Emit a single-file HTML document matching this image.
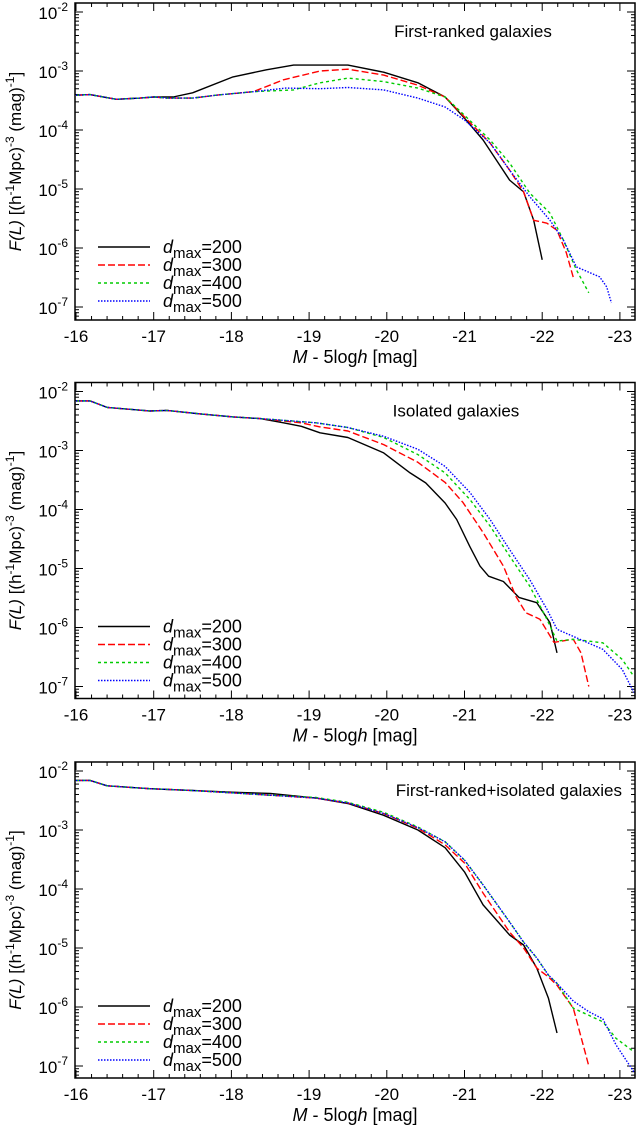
<!DOCTYPE html>
<html><head><meta charset="utf-8"><style>
html,body{margin:0;padding:0;background:#fff}
svg{display:block}
text{font-family:"Liberation Sans",sans-serif;fill:#000}
</style></head><body>
<svg id="fig" width="636" height="1134" viewBox="0 0 636 1134" xmlns="http://www.w3.org/2000/svg"></svg>
<script>
const xTicks=[-16,-17,-18,-19,-20,-21,-22,-23];
const yTickExps=[-2,-3,-4,-5,-6,-7];
const seriesNames=['200','300','400','500'];
const panelTitles=['First-ranked galaxies','Isolated galaxies','First-ranked+isolated galaxies'];
// panel 1 data (M, log10 F)
const p1Black=[[-16,-3.41],[-16.18,-3.40],[-16.52,-3.48],[-16.82,-3.46],[-17,-3.44],[-17.25,-3.44],[-17.5,-3.37],[-18.02,-3.1],[-18.45,-2.98],[-18.8,-2.9],[-19.09,-2.9],[-19.5,-2.9],[-19.96,-3.02],[-20.4,-3.2],[-20.75,-3.44],[-21,-3.8],[-21.24,-4.17],[-21.41,-4.51],[-21.58,-4.85],[-21.76,-5.05],[-21.89,-5.53],[-22,-6.2]];
const p1Red=[[-16,-3.41],[-16.18,-3.40],[-16.52,-3.48],[-16.82,-3.46],[-17,-3.44],[-17.17,-3.46],[-17.5,-3.46],[-17.8,-3.41],[-18.28,-3.35],[-18.67,-3.15],[-19.14,-3.0],[-19.5,-2.97],[-19.96,-3.07],[-20.4,-3.24],[-20.75,-3.44],[-21,-3.78],[-21.33,-4.22],[-21.58,-4.68],[-21.76,-5.05],[-21.89,-5.53],[-22.06,-5.58],[-22.19,-5.7],[-22.31,-6.08],[-22.4,-6.5]];
const p1Green=[[-16,-3.41],[-16.18,-3.40],[-16.52,-3.48],[-16.82,-3.46],[-17,-3.44],[-17.17,-3.46],[-17.5,-3.46],[-17.8,-3.41],[-18.28,-3.35],[-18.8,-3.32],[-19.14,-3.2],[-19.5,-3.12],[-19.96,-3.18],[-20.4,-3.29],[-20.75,-3.44],[-21,-3.75],[-21.33,-4.17],[-21.58,-4.56],[-21.84,-5.07],[-22.1,-5.41],[-22.27,-5.86],[-22.44,-6.37],[-22.6,-6.76]];
const p1Blue=[[-16,-3.41],[-16.18,-3.40],[-16.52,-3.48],[-16.82,-3.46],[-17,-3.44],[-17.17,-3.46],[-17.5,-3.46],[-17.8,-3.41],[-18.28,-3.35],[-18.7,-3.29],[-19.14,-3.3],[-19.5,-3.28],[-19.96,-3.32],[-20.4,-3.46],[-20.75,-3.61],[-21,-3.83],[-21.33,-4.22],[-21.58,-4.68],[-21.84,-5.13],[-22.1,-5.53],[-22.27,-5.86],[-22.44,-6.32],[-22.74,-6.49],[-22.83,-6.66],[-22.89,-6.93]];
// panel 2
const p2Black=[[-16,-2.16],[-16.18,-2.16],[-16.4,-2.27],[-16.95,-2.33],[-17.17,-2.32],[-17.6,-2.38],[-18.02,-2.43],[-18.37,-2.46],[-18.67,-2.53],[-18.9,-2.59],[-19.14,-2.70],[-19.5,-2.78],[-19.96,-3.04],[-20.3,-3.38],[-20.5,-3.55],[-20.75,-3.89],[-20.9,-4.17],[-21.07,-4.63],[-21.2,-4.96],[-21.31,-5.13],[-21.5,-5.22],[-21.7,-5.49],[-21.93,-5.58],[-22.1,-5.92],[-22.19,-6.43]];
const p2Red=[[-16,-2.16],[-16.18,-2.16],[-16.4,-2.27],[-16.95,-2.33],[-17.17,-2.32],[-17.6,-2.38],[-18.02,-2.43],[-18.37,-2.46],[-18.9,-2.53],[-19.14,-2.6],[-19.5,-2.67],[-19.96,-2.9],[-20.4,-3.2],[-20.75,-3.54],[-20.98,-3.88],[-21.24,-4.39],[-21.5,-4.96],[-21.66,-5.47],[-21.79,-5.75],[-21.97,-5.86],[-22.15,-6.25],[-22.4,-6.2],[-22.5,-6.43],[-22.6,-7.0]];
const p2Green=[[-16,-2.16],[-16.18,-2.16],[-16.4,-2.27],[-16.95,-2.33],[-17.17,-2.32],[-17.6,-2.38],[-18.02,-2.43],[-18.37,-2.46],[-19.09,-2.53],[-19.5,-2.61],[-19.96,-2.78],[-20.4,-3.07],[-20.75,-3.38],[-21.07,-3.83],[-21.33,-4.28],[-21.58,-4.79],[-21.84,-5.3],[-22.06,-5.86],[-22.19,-6.23],[-22.4,-6.2],[-22.78,-6.26],[-23.03,-6.54],[-23.18,-6.83]];
const p2Blue=[[-16,-2.16],[-16.18,-2.16],[-16.4,-2.27],[-16.95,-2.33],[-17.17,-2.32],[-17.6,-2.38],[-18.02,-2.43],[-18.37,-2.46],[-19.09,-2.53],[-19.5,-2.61],[-19.96,-2.76],[-20.4,-2.98],[-20.75,-3.27],[-21.07,-3.71],[-21.33,-4.17],[-21.58,-4.68],[-21.84,-5.19],[-22.06,-5.69],[-22.19,-6.03],[-22.4,-6.15],[-22.78,-6.37],[-23.03,-6.71],[-23.18,-7.1]];
// panel 3
const p3Black=[[-16,-2.16],[-16.18,-2.16],[-16.4,-2.25],[-16.95,-2.3],[-17.5,-2.33],[-18.0,-2.36],[-18.5,-2.38],[-19.09,-2.46],[-19.5,-2.55],[-19.96,-2.75],[-20.4,-3.0],[-20.75,-3.3],[-21,-3.71],[-21.24,-4.27],[-21.58,-4.78],[-21.76,-4.95],[-21.93,-5.34],[-22.08,-5.85],[-22.19,-6.44]];
const p3Red=[[-16,-2.16],[-16.18,-2.16],[-16.4,-2.25],[-16.95,-2.3],[-17.5,-2.33],[-18.0,-2.37],[-18.5,-2.41],[-19.09,-2.46],[-19.5,-2.54],[-19.96,-2.72],[-20.4,-2.97],[-20.75,-3.25],[-21,-3.56],[-21.24,-4.07],[-21.58,-4.73],[-21.76,-5.0],[-21.93,-5.34],[-22.08,-5.49],[-22.19,-5.63],[-22.4,-6.02],[-22.6,-7.0]];
const p3Green=[[-16,-2.16],[-16.18,-2.16],[-16.4,-2.25],[-16.95,-2.3],[-17.5,-2.33],[-18.0,-2.37],[-18.5,-2.41],[-19.09,-2.45],[-19.5,-2.53],[-19.96,-2.7],[-20.4,-2.95],[-20.75,-3.2],[-21,-3.51],[-21.24,-3.93],[-21.58,-4.56],[-21.76,-4.9],[-21.93,-5.17],[-22.08,-5.46],[-22.19,-5.6],[-22.4,-6.02],[-22.6,-6.14],[-22.78,-6.25],[-22.95,-6.53],[-23.18,-6.76]];
const p3Blue=[[-16,-2.16],[-16.18,-2.16],[-16.4,-2.25],[-16.95,-2.3],[-17.5,-2.33],[-18.0,-2.37],[-18.5,-2.41],[-19.09,-2.46],[-19.5,-2.54],[-19.96,-2.72],[-20.4,-2.96],[-20.75,-3.2],[-21,-3.51],[-21.24,-3.93],[-21.58,-4.56],[-21.76,-4.9],[-21.93,-5.17],[-22.08,-5.46],[-22.19,-5.6],[-22.4,-5.9],[-22.6,-6.08],[-22.78,-6.2],[-22.95,-6.64],[-23.18,-7.1]];
const panelData=[[p1Black,p1Red,p1Green,p1Blue],[p2Black,p2Red,p2Green,p2Blue],[p3Black,p3Red,p3Green,p3Blue]];

const NS='http://www.w3.org/2000/svg';
const svg=document.getElementById('fig');
const X0=76,PXM=77.7,BL=75,BR=635,DEC=59;
const styles=[{c:'#000',d:''},{c:'#f00',d:'7,3'},{c:'#0c0',d:'3,3'},{c:'#00f',d:'1.5,1.5'}];
function mk(tag,attrs,parent){const e=document.createElementNS(NS,tag);for(const k in attrs)e.setAttribute(k,attrs[k]);(parent||svg).appendChild(e);return e;}
function xs(m){return X0+PXM*(-m-16);}
const titleX=[473,456,622],titleAnchor=['middle','middle','end'];
for(let p=0;p<3;p++){
  const off=p*379.5;
  const top=3+off,bot=320+off-(p?1:0),y2=12+off;
  const ys=v=>y2+DEC*(-2-v);
  const g=mk('g',{});
  
  
  const cid='clip'+p;
  const cp=mk('clipPath',{id:cid},g);mk('rect',{x:BL,y:top,width:BR-BL,height:bot-top},cp);
  for(let m=-16;m>=-23.2;m-=0.2){
    const mm=Math.round(m*10)/10;const x=xs(mm);if(x>BR)break;
    const major=Math.abs(mm-Math.round(mm))<1e-6;const L=major?8:4;
    mk('line',{x1:x,y1:bot,x2:x,y2:bot-L,stroke:'#000','stroke-width':1},g);
    mk('line',{x1:x,y1:top,x2:x,y2:top+L,stroke:'#000','stroke-width':1},g);
  }
  xTicks.forEach(t=>{const tx=mk('text',{x:xs(t),y:bot+22,'text-anchor':'middle','font-size':17},g);tx.textContent=String(t);
    
    });
  for(let e=-8;e<=-1;e++){for(let k=1;k<=9;k++){const v=e+Math.log10(k);const y=ys(v);if(y<top||y>bot)continue;const L=k==1?8:4;
    mk('line',{x1:BL,y1:y,x2:BL+L,y2:y,stroke:'#000','stroke-width':1},g);
    mk('line',{x1:BR,y1:y,x2:BR-L,y2:y,stroke:'#000','stroke-width':1},g);}}
  yTickExps.forEach(e=>{const y=ys(e);const tx=mk('text',{x:68,y:y+7,'text-anchor':'end','font-size':17},g);
    tx.innerHTML='10<tspan dy="-8" font-size="12">'+e+'</tspan>';
    
    });
  panelData[p].forEach((s,i)=>{const pts=s.map(d=>xs(d[0]).toFixed(1)+','+ys(d[1]).toFixed(1)).join(' ');
    const pl=mk('polyline',{points:pts,fill:'none',stroke:styles[i].c,'stroke-width':1.4,'stroke-dasharray':styles[i].d,'stroke-linejoin':'round','clip-path':'url(#'+cid+')'},g);
    
    });
  mk('rect',{x:BL,y:top,width:BR-BL,height:bot-top,fill:'none',stroke:'#000','stroke-width':1.5},g);
  const tt=mk('text',{x:titleX[p],y:top+34,'text-anchor':titleAnchor[p],'font-size':17},g);tt.textContent=panelTitles[p];
  
  
  const ly=[247,265,283,301];
  seriesNames.forEach((n,i)=>{const y=ly[i]+off;
    const ln=mk('line',{x1:98,y1:y,x2:150,y2:y,stroke:styles[i].c,'stroke-width':1.4,'stroke-dasharray':styles[i].d},g);
    
    
    const t=mk('text',{x:163,y:y+6,'font-size':18},g);
    t.innerHTML='<tspan font-style="italic">d</tspan><tspan dy="5" font-size="15">max</tspan><tspan dy="-5">='+n+'</tspan>';
    
    });
  const xl=mk('text',{x:355,y:bot+43,'text-anchor':'middle','font-size':18},g);
  xl.innerHTML='<tspan font-style="italic">M</tspan> - 5log<tspan font-style="italic">h</tspan>  [mag]';
  
  
  const cy=(top+bot)/2;
  const yl=mk('text',{x:0,y:0,'text-anchor':'middle','font-size':17,transform:'translate(21,'+cy+') rotate(-90)'},g);
  yl.innerHTML='<tspan font-style="italic">F(L)</tspan>  [(h<tspan dy="-7" font-size="12">-1</tspan><tspan dy="7">Mpc)</tspan><tspan dy="-7" font-size="12">-3</tspan><tspan dy="7"> (mag)</tspan><tspan dy="-7" font-size="12">-1</tspan><tspan dy="7">]</tspan>';
  
  
}
</script>
</body></html>
